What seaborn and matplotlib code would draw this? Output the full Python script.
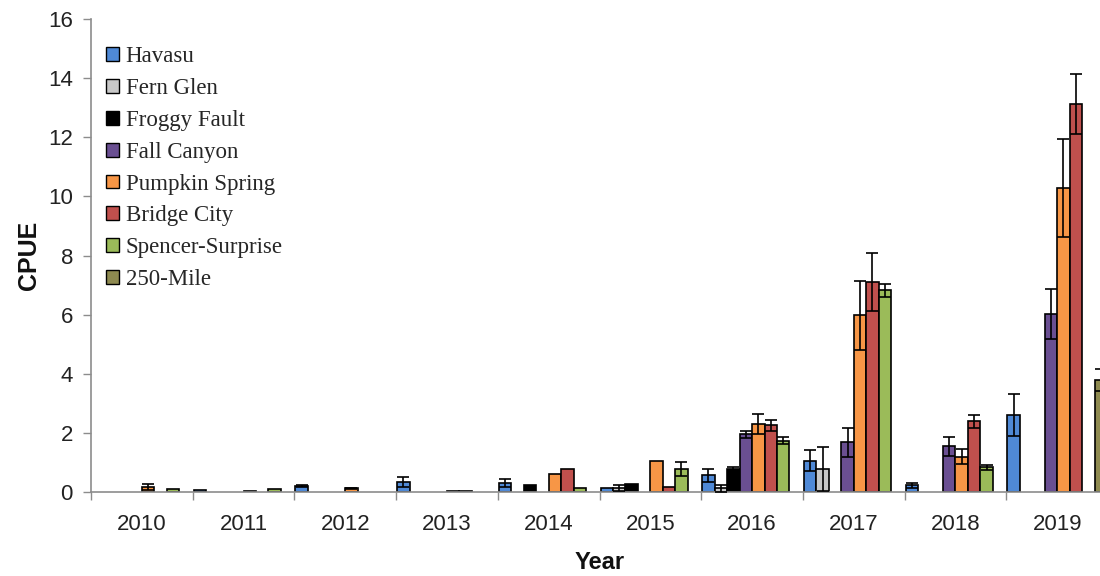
import numpy as np
import pandas as pd
import seaborn as sns
import matplotlib
matplotlib.use("Agg")
import matplotlib.pyplot as plt
from matplotlib.ticker import FixedLocator, NullFormatter
from matplotlib.patches import Patch

years = ["2010", "2011", "2012", "2013", "2014", "2015", "2016", "2017", "2018", "2019"]
sites = ["Havasu", "Fern Glen", "Froggy Fault", "Fall Canyon",
         "Pumpkin Spring", "Bridge City", "Spencer-Surprise", "250-Mile"]
colors = ["#4F89D6", "#C8C8C8", "#000000", "#6A4F92",
          "#F79646", "#C0504D", "#9BBB59", "#8E8A50"]

havasu      = [0.00, 0.07, 0.21, 0.34, 0.30, 0.14, 0.57, 1.06, 0.22, 2.61]
fern_glen   = [0.00, 0.00, 0.00, 0.00, 0.00, 0.13, 0.12, 0.77, 0.00, 0.00]
froggy      = [0.00, 0.00, 0.00, 0.00, 0.23, 0.27, 0.77, 0.00, 0.00, 0.00]
fall_canyon = [0.00, 0.00, 0.00, 0.00, 0.00, 0.00, 1.95, 1.69, 1.54, 6.03]
pumpkin     = [0.18, 0.05, 0.12, 0.05, 0.61, 1.05, 2.29, 5.98, 1.20, 10.28]
bridge      = [0.00, 0.00, 0.00, 0.03, 0.78, 0.16, 2.25, 7.10, 2.39, 13.13]
spencer     = [0.09, 0.09, 0.00, 0.00, 0.15, 0.77, 1.73, 6.82, 0.83, 0.00]
mile250     = [0.00, 0.00, 0.00, 0.00, 0.00, 0.00, 0.00, 0.00, 0.00, 3.79]

havasu_se      = [0.00, 0.00, 0.04, 0.18, 0.13, 0.00, 0.22, 0.35, 0.10, 0.71]
fern_glen_se   = [0.00, 0.00, 0.00, 0.00, 0.00, 0.11, 0.13, 0.74, 0.00, 0.00]
froggy_se      = [0.00, 0.00, 0.00, 0.00, 0.00, 0.00, 0.08, 0.00, 0.00, 0.00]
fall_canyon_se = [0.00, 0.00, 0.00, 0.00, 0.00, 0.00, 0.13, 0.49, 0.31, 0.84]
pumpkin_se     = [0.10, 0.00, 0.03, 0.00, 0.00, 0.00, 0.34, 1.17, 0.25, 1.66]
bridge_se      = [0.00, 0.00, 0.00, 0.00, 0.00, 0.00, 0.18, 0.97, 0.22, 1.01]
spencer_se     = [0.00, 0.00, 0.00, 0.00, 0.00, 0.24, 0.12, 0.22, 0.09, 0.00]
mile250_se     = [0.00, 0.00, 0.00, 0.00, 0.00, 0.00, 0.00, 0.00, 0.00, 0.37]

values = [havasu, fern_glen, froggy, fall_canyon, pumpkin, bridge, spencer, mile250]
errors = [havasu_se, fern_glen_se, froggy_se, fall_canyon_se, pumpkin_se,
          bridge_se, spencer_se, mile250_se]

rows = []
for s, vals in zip(sites, values):
    for y, v in zip(years, vals):
        rows.append({"Year": y, "Site": s, "CPUE": v})
df = pd.DataFrame(rows)

sns.set_theme(style="white")
plt.rcParams["font.family"] = ["Liberation Sans", "DejaVu Sans"]

fig = plt.figure(figsize=(11, 5.76), dpi=100)
ax = fig.add_axes([91 / 1100, 84 / 576, 1017 / 1100, 473 / 576])

sns.barplot(data=df, x="Year", y="CPUE", hue="Site", order=years,
            hue_order=sites, palette=colors, saturation=1, width=0.98, gap=0,
            edgecolor="black", linewidth=1.2, errorbar=None, ax=ax,
            legend=False)

for cont, errs in zip(ax.containers, errors):
    xs, ys, es = [], [], []
    for patch, e in zip(cont.patches, errs):
        if patch.get_height() <= 0:
            patch.set_visible(False)
            continue
        if e > 0:
            xs.append(patch.get_x() + patch.get_width() / 2)
            ys.append(patch.get_height())
            es.append(e)
    if xs:
        ax.errorbar(xs, ys, yerr=es, fmt="none", ecolor="black",
                    elinewidth=1.2, capsize=4.3, capthick=1.2, zorder=5)

ax.set_ylim(0, 16)
ax.set_xlim(-0.5, 9.5)
ax.set_yticks(np.arange(0, 17, 2))
ax.tick_params(axis="y", direction="out", length=6, width=1, color="#8c8c8c",
               labelsize=16, labelcolor="#222222", pad=7, left=True)
ax.xaxis.set_minor_locator(FixedLocator(np.arange(-0.5, 10.0, 1.0)))
ax.xaxis.set_minor_formatter(NullFormatter())
ax.tick_params(axis="x", which="major", length=0, labelsize=16,
               labelcolor="#222222", pad=16)
ax.tick_params(axis="x", which="minor", direction="out", length=6, width=1,
               color="#8c8c8c", bottom=True)

for side in ["top", "right"]:
    ax.spines[side].set_visible(False)
for side in ["left", "bottom"]:
    ax.spines[side].set_color("#8c8c8c")
    ax.spines[side].set_linewidth(1.2)

ax.set_ylabel("CPUE", fontsize=18, fontweight="bold", color="#111111", labelpad=5)
ax.set_xlabel("Year", fontsize=17, fontweight="bold", color="#111111")
ax.xaxis.set_label_coords(0.5, -0.125)

handles = [Patch(facecolor=c, edgecolor="black", linewidth=1.0) for c in colors]
ax.legend(handles, sites, loc="upper left", bbox_to_anchor=(0.015, 0.942),
          frameon=False, prop={"family": "Liberation Serif", "size": 16.5},
          handlelength=0.55, handleheight=0.55, handletextpad=0.3,
          labelspacing=0.47, borderaxespad=0, borderpad=0)

fig.savefig("out.png", dpi=100)
